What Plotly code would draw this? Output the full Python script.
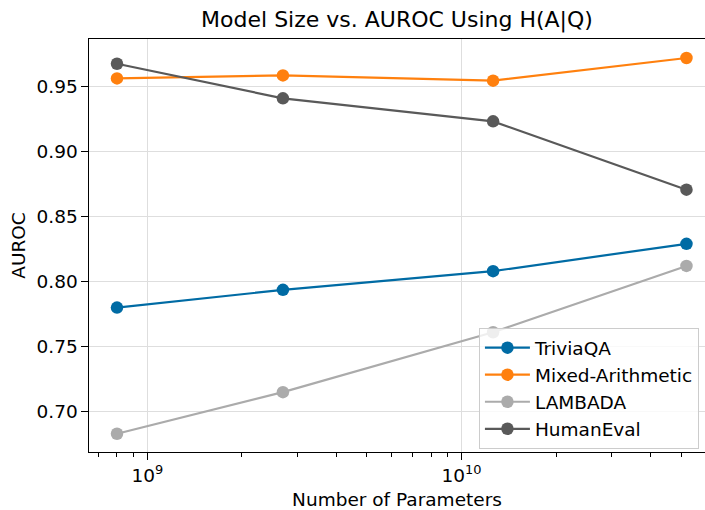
import plotly.graph_objects as go

params = [0.8e9, 2.7e9, 12.6e9, 52e9]

trivia_qa = [0.780, 0.7936, 0.808, 0.829]
mixed_arith = [0.9561, 0.9584, 0.9544, 0.9718]
lambada = [0.683, 0.715, 0.761, 0.812]
human_eval = [0.9674, 0.9408, 0.9231, 0.8706]

series = [
    ("TriviaQA", trivia_qa, "#006BA4"),
    ("Mixed-Arithmetic", mixed_arith, "#FF800E"),
    ("LAMBADA", lambada, "#ABABAB"),
    ("HumanEval", human_eval, "#595959"),
]

major_ticks = [1e9, 1e10]
major_labels = ["10<sup>9</sup>", "10<sup>10</sup>"]
minor_ticks = [m * 1e8 for m in range(6, 10)] + [m * 1e9 for m in range(2, 10)] + [m * 1e10 for m in range(2, 7)]

fig = go.Figure()
for nombre, valores, color in series:
    fig.add_scatter(
        x=params,
        y=valores,
        name=nombre,
        mode="lines+markers",
        line={"color": color, "width": 2.2},
        marker={"color": color, "size": 12.5},
    )

font = "DejaVu Sans, sans-serif"
fig.update_layout(
    width=705,
    height=510,
    paper_bgcolor="white",
    plot_bgcolor="white",
    font={"family": font, "color": "black", "size": 18.5},
    margin={"l": 89, "r": 0, "t": 39, "b": 58, "autoexpand": False},
    title={"text": "Model Size vs. AUROC Using H(A|Q)", "x": 0.5, "xref": "paper",
           "y": 0.962, "yref": "container", "yanchor": "middle", "font": {"size": 22}},
    showlegend=True,
    legend={
        "x": 0.633, "y": 0.30, "xanchor": "left", "yanchor": "top",
        "bgcolor": "rgba(255,255,255,0.8)", "bordercolor": "#cccccc", "borderwidth": 1,
        "font": {"size": 18.5}, "tracegroupgap": 0, "itemwidth": 45,
    },
    xaxis={
        "type": "log",
        "range": [8.814, 10.775],
        "tickvals": major_ticks,
        "ticktext": major_labels,
        "ticks": "outside",
        "ticklen": 6.5,
        "tickcolor": "black",
        "showline": True,
        "linecolor": "black",
        "linewidth": 1.2,
        "mirror": True,
        "showgrid": True,
        "gridcolor": "#dedede",
        "zeroline": False,
        "minor": {"tickvals": minor_ticks, "ticks": "outside", "ticklen": 3.7,
                  "tickcolor": "black", "showgrid": False},
        "title": {"text": "Number of Parameters", "font": {"size": 18.5}, "standoff": 9},
    },
    yaxis={
        "range": [0.669, 0.9864],
        "tickvals": [0.70, 0.75, 0.80, 0.85, 0.90, 0.95],
        "ticktext": ["0.70", "0.75", "0.80", "0.85", "0.90", "0.95"],
        "ticks": "outside",
        "ticklen": 6.5,
        "tickcolor": "black",
        "showline": True,
        "linecolor": "black",
        "linewidth": 1.2,
        "showgrid": True,
        "gridcolor": "#dedede",
        "zeroline": False,
        "title": {"text": "AUROC", "font": {"size": 18.5}, "standoff": 6},
    },
)

fig.write_html(
    "out.html",
    config={"displayModeBar": False},
    post_script="document.body.style.margin='0px';",
)
